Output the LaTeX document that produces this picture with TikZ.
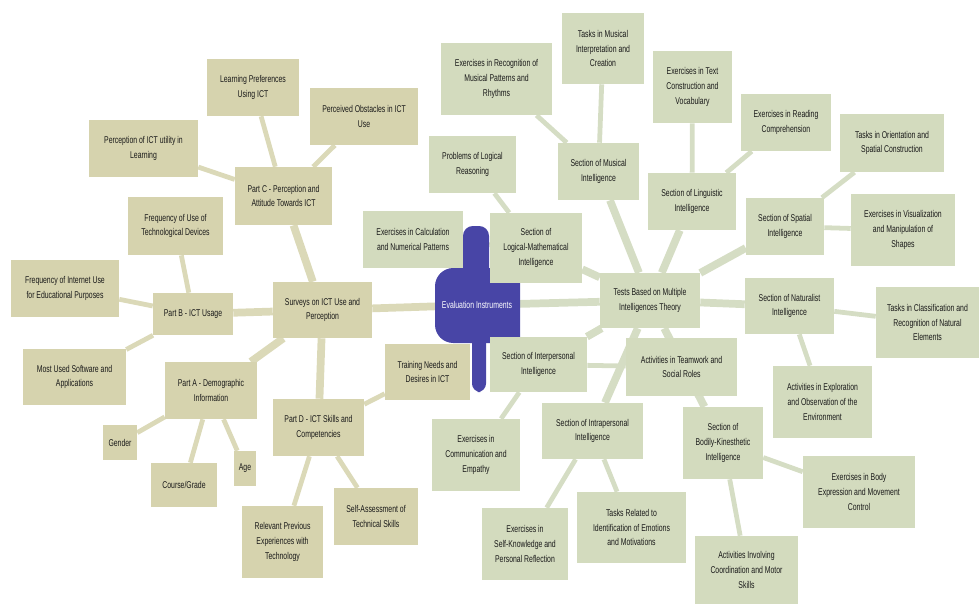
\documentclass[tikz,border=0pt]{standalone}
\usepackage{fontspec}
\setmainfont{Liberation Sans}[FakeStretch=0.7]
\usepackage{xcolor}
\usepackage{tikz}
\usetikzlibrary{backgrounds}

\definecolor{surveytan}{RGB}{214,211,174}
\definecolor{surveyline}{RGB}{219,217,184}
\definecolor{testsage}{RGB}{211,219,190}
\definecolor{testline}{RGB}{213,221,196}
\definecolor{evalblue}{RGB}{72,69,166}

\begin{document}
\begin{tikzpicture}[
  x=0.025cm, y=-0.025cm,
  every node/.style={font=\fontsize{7}{10.5}\selectfont, text=black!90},
  size/.style 2 args={minimum width=#1cm, minimum height=#2cm},
  topic/.style={align=center, inner sep=2pt},
  svbox/.style={topic, fill=surveytan},
  mibox/.style={topic, fill=testsage},
  svlink/.style={draw=surveyline, line width=5.5pt},
  svleaf/.style={draw=surveyline, line width=3.4pt},
  milink/.style={draw=testline, line width=5.5pt},
  mileaf/.style={draw=testline, line width=3.4pt},
]
\useasboundingbox (0,0) rectangle (979,605);

% Centre: evaluation instruments
\fill[evalblue, rounded corners=7pt] (463,226) rectangle (489,280);
\fill[evalblue, rounded corners=13pt] (477,268) -- (435,268) -- (435,343) -- (477,343)
  [rounded corners=2pt] -- (520,343) -- (520,268) -- cycle;
\fill[evalblue, rounded corners=6pt] (472,330) rectangle (486,392);
\node[text=white] (eval) at (477,305) {Evaluation Instruments};

% Left branch: surveys
\node[svbox, size={2.475}{1.4}] (survey) at (322.5,310) {Surveys on ICT Use and\\Perception};
\node[svbox, size={2.425}{1.45}] (partc) at (283.5,196) {Part C - Perception and\\Attitude Towards ICT};
\node[svbox, size={2.3}{1.425}] (lpref) at (253,87.5) {Learning Preferences\\Using ICT};
\node[svbox, size={2.7}{1.425}] (obst) at (364,116.5) {Perceived Obstacles in ICT\\Use};
\node[svbox, size={2.725}{1.425}] (util) at (143.5,148.5) {Perception of ICT utility in\\Learning};
\node[svbox, size={2.0}{1.05}] (partb) at (193,314) {Part B - ICT Usage};
\node[svbox, size={2.375}{1.45}] (freqdev) at (175.5,226) {Frequency of Use of\\Technological Devices};
\node[svbox, size={2.7}{1.425}] (freqnet) at (65,288.5) {Frequency of Internet Use\\for Educational Purposes};
\node[svbox, size={2.575}{1.4}] (soft) at (74.5,377) {Most Used Software and\\Applications};
\node[svbox, size={2.3}{1.425}] (parta) at (211,390.5) {Part A - Demographic\\Information};
\node[svbox, size={0.85}{0.875}] (gender) at (120,442.5) {Gender};
\node[svbox, size={1.65}{1.1}] (course) at (184,485) {Course/Grade};
\node[svbox, size={0.55}{0.875}] (age) at (245,468.5) {Age};
\node[svbox, size={2.275}{1.425}] (partd) at (318.5,427.5) {Part D - ICT Skills and\\Competencies};
\node[svbox, size={2.025}{1.8}] (relev) at (282.5,542) {Relevant Previous\\Experiences with\\Technology};
\node[svbox, size={2.1}{1.425}] (selfa) at (376,516.5) {Self-Assessment of\\Technical Skills};
\node[svbox, size={2.125}{1.4}] (train) at (427.5,372) {Training Needs and\\Desires in ICT};

% Right branch: multiple intelligences
\node[mibox, size={2.5}{1.375}] (tests) at (650,300.5) {Tests Based on Multiple\\Intelligences Theory};
\node[mibox, size={2.3}{1.75}] (logic) at (536,248) {Section of\\Logical-Mathematical\\Intelligence};
\node[mibox, size={2.5}{1.425}] (calc) at (413,239.5) {Exercises in Calculation\\and Numerical Patterns};
\node[mibox, size={2.175}{1.425}] (logreas) at (472.5,164.5) {Problems of Logical\\Reasoning};
\node[mibox, size={2.025}{1.425}] (musical) at (598.5,171.5) {Section of Musical\\Intelligence};
\node[mibox, size={2.775}{1.8}] (musrec) at (496.5,79) {Exercises in Recognition of\\Musical Patterns and\\Rhythms};
\node[mibox, size={2.05}{1.775}] (musint) at (603,48.5) {Tasks in Musical\\Interpretation and\\Creation};
\node[mibox, size={2.2}{1.425}] (ling) at (692,201.5) {Section of Linguistic\\Intelligence};
\node[mibox, size={1.975}{1.8}] (textc) at (692.5,87) {Exercises in Text\\Construction and\\Vocabulary};
\node[mibox, size={2.25}{1.425}] (reading) at (786,122.5) {Exercises in Reading\\Comprehension};
\node[mibox, size={1.95}{1.425}] (spatial) at (785,226.5) {Section of Spatial\\Intelligence};
\node[mibox, size={2.6}{1.45}] (orient) at (892,143) {Tasks in Orientation and\\Spatial Construction};
\node[mibox, size={2.6}{1.8}] (visual) at (903,230) {Exercises in Visualization\\and Manipulation of\\Shapes};
\node[mibox, size={2.225}{1.4}] (natur) at (789.5,306) {Section of Naturalist\\Intelligence};
\node[mibox, size={2.575}{1.775}] (classif) at (927.5,322.5) {Tasks in Classification and\\Recognition of Natural\\Elements};
\node[mibox, size={2.475}{1.8}] (explor) at (822.5,402) {Activities in Exploration\\and Observation of the\\Environment};
\node[mibox, size={2.425}{1.375}] (inter) at (538.5,364.5) {Section of Interpersonal\\Intelligence};
\node[mibox, size={2.775}{1.45}] (team) at (681.5,367) {Activities in Teamwork and\\Social Roles};
\node[mibox, size={2.2}{1.8}] (commun) at (476,455) {Exercises in\\Communication and\\Empathy};
\node[mibox, size={2.525}{1.4}] (intra) at (592.5,431) {Section of Intrapersonal\\Intelligence};
\node[mibox, size={2.15}{1.8}] (selfk) at (525,544) {Exercises in\\Self-Knowledge and\\Personal Reflection};
\node[mibox, size={2.725}{1.775}] (emot) at (631.5,527.5) {Tasks Related to\\Identification of Emotions\\and Motivations};
\node[mibox, size={2.0}{1.8}] (bodily) at (723,443) {Section of\\Bodily-Kinesthetic\\Intelligence};
\node[mibox, size={2.8}{1.8}] (bodyexp) at (859,492) {Exercises in Body\\Expression and Movement\\Control};
\node[mibox, size={2.575}{1.7}] (coord) at (746.5,570) {Activities Involving\\Coordination and Motor\\Skills};

% Connectors (behind everything)
\begin{scope}[on background layer]
  \draw[svlink] (eval) -- (survey);
  \draw[milink] (eval) -- (tests);
  \foreach \part in {partc,partb,parta,partd}
    \draw[svlink] (survey) -- (\part);
  \foreach \leaf in {lpref,obst,util}
    \draw[svleaf] (partc) -- (\leaf);
  \foreach \leaf in {freqdev,freqnet,soft}
    \draw[svleaf] (partb) -- (\leaf);
  \foreach \leaf in {gender,course,age}
    \draw[svleaf] (parta) -- (\leaf);
  \foreach \leaf in {relev,selfa,train}
    \draw[svleaf] (partd) -- (\leaf);
  \foreach \sec in {logic,musical,ling,spatial,natur,inter,intra,bodily}
    \draw[milink] (tests) -- (\sec);
  \foreach \sec/\leaf in {logic/calc,logic/logreas,musical/musrec,musical/musint,
      ling/textc,ling/reading,spatial/orient,spatial/visual,natur/classif,
      natur/explor,inter/team,inter/commun,intra/selfk,intra/emot,
      bodily/bodyexp,bodily/coord}
    \draw[mileaf] (\sec) -- (\leaf);
\end{scope}

\end{tikzpicture}
\end{document}
